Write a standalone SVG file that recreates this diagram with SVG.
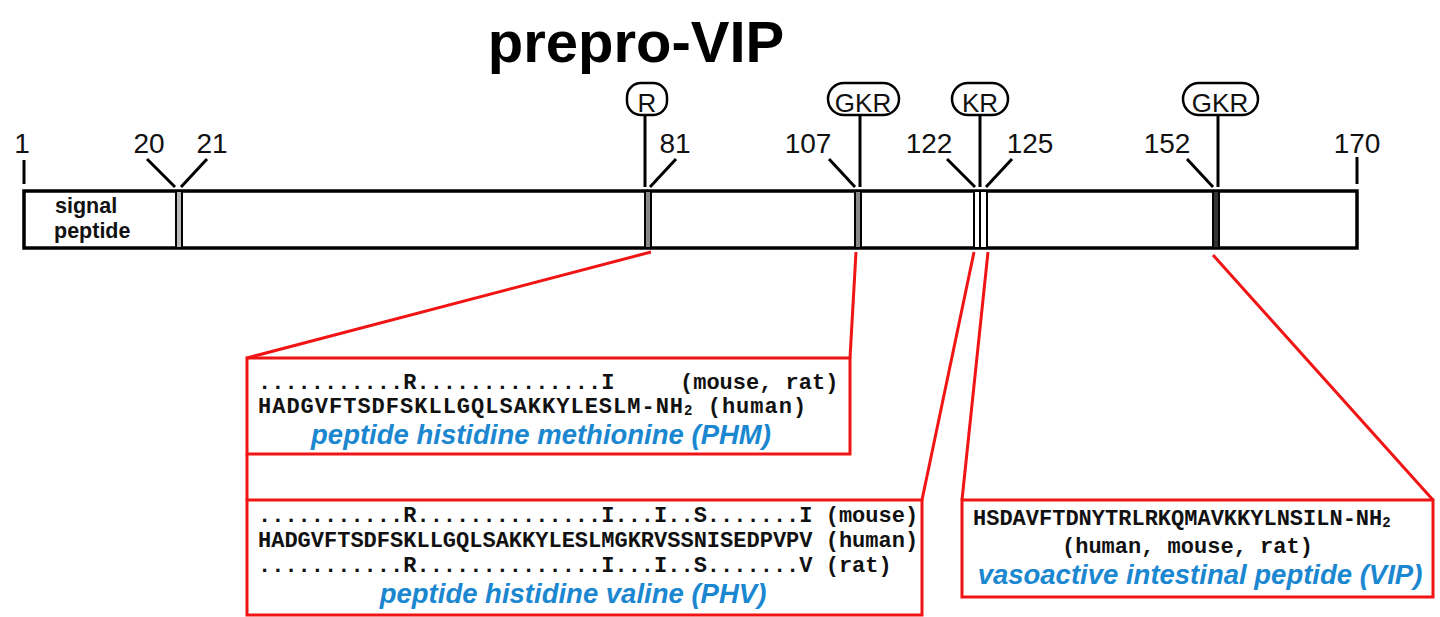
<svg xmlns="http://www.w3.org/2000/svg" width="1440" height="617" viewBox="0 0 1440 617">
<style>
.title{font-family:"Liberation Sans",Arial,sans-serif;font-weight:bold;font-size:58px;fill:#000}
.num{font-family:"Liberation Sans",Arial,sans-serif;font-size:28px;fill:#111;text-anchor:middle}
.site{font-family:"Liberation Sans",Arial,sans-serif;font-size:26px;fill:#111;text-anchor:middle}
.sig{font-family:"Liberation Sans",Arial,sans-serif;font-weight:bold;font-size:21.5px;fill:#111}
.seq{font-family:"Liberation Mono","Courier New",monospace;font-weight:bold;font-size:22px;fill:#111;white-space:pre}
.pep{font-family:"Liberation Sans",Arial,sans-serif;font-weight:bold;font-style:italic;font-size:27.5px;fill:#1a87d0;text-anchor:middle}
.blk{stroke:#000;stroke-width:3;fill:none}
.box{stroke:#000;stroke-width:2.5;fill:#fff}
.div{stroke:#000;stroke-width:2}
.red{stroke:#f01414;stroke-width:3;fill:none}
</style>
<rect width="1440" height="617" fill="#fff"/>
<g id="title"><text class="title" x="636" y="62" text-anchor="middle">prepro-VIP</text></g>
<g id="precursor">
<rect x="24" y="191" width="1333" height="57" fill="#fff" stroke="#000" stroke-width="3.5"/>
<text class="sig" x="55" y="213">signal</text>
<text class="sig" x="54" y="238">peptide</text>
<rect class="div" x="176" y="191" width="6" height="57" fill="#bbb"/>
<rect class="div" x="645" y="191" width="6" height="57" fill="#888"/>
<rect class="div" x="855" y="191" width="6" height="57" fill="#888"/>
<rect class="div" x="974" y="191" width="6" height="57" fill="#fff"/>
<rect class="div" x="980" y="191" width="7" height="57" fill="#fff"/>
<rect class="div" x="1213" y="191" width="6" height="57" fill="#333"/>
</g>
<g id="positions">
<line class="blk" x1="24" y1="160" x2="24" y2="184"/>
<text class="num" x="22" y="153">1</text>
<line class="blk" x1="147" y1="159" x2="175" y2="187"/>
<text class="num" x="149" y="153">20</text>
<line class="blk" x1="207" y1="159" x2="181" y2="187"/>
<text class="num" x="212" y="153">21</text>
<line class="blk" x1="676" y1="159" x2="650" y2="187"/>
<text class="num" x="675" y="153">81</text>
<line class="blk" x1="829" y1="159" x2="855" y2="187"/>
<text class="num" x="808" y="153">107</text>
<line class="blk" x1="947" y1="159" x2="975" y2="187"/>
<text class="num" x="929" y="153">122</text>
<line class="blk" x1="1012" y1="159" x2="986" y2="187"/>
<text class="num" x="1030" y="153">125</text>
<line class="blk" x1="1187" y1="159" x2="1213" y2="187"/>
<text class="num" x="1167" y="153">152</text>
<line class="blk" x1="1357" y1="157" x2="1357" y2="184"/>
<text class="num" x="1357" y="153">170</text>
</g>
<g id="site-R">
<line class="blk" x1="645" y1="115" x2="645" y2="187"/>
<rect class="box" x="627" y="83" width="40" height="32" rx="14"/>
<text class="site" x="647" y="112">R</text>
</g>
<g id="site-GKR-107">
<line class="blk" x1="860" y1="115" x2="860" y2="187"/>
<rect class="box" x="828" y="83" width="71" height="32" rx="16"/>
<text class="site" x="863" y="112">GKR</text>
</g>
<g id="site-KR">
<line class="blk" x1="980" y1="115" x2="980" y2="187"/>
<rect class="box" x="952" y="83" width="56" height="32" rx="16"/>
<text class="site" x="980" y="112">KR</text>
</g>
<g id="site-GKR-152">
<line class="blk" x1="1218" y1="115" x2="1218" y2="187"/>
<rect class="box" x="1183" y="83" width="75" height="32" rx="16"/>
<text class="site" x="1220" y="112">GKR</text>
</g>
<g id="connectors">
<line class="red" x1="651" y1="252" x2="247" y2="358"/>
<line class="red" x1="856" y1="252" x2="850" y2="358"/>
<line class="red" x1="974" y1="252" x2="922" y2="500"/>
<line class="red" x1="988" y1="252" x2="962" y2="500"/>
<line class="red" x1="1213" y1="255" x2="1433" y2="500"/>
<line class="red" x1="247" y1="454" x2="247" y2="500"/>
</g>
<g id="PHM">
<rect class="red" x="247" y="358" width="603" height="96" fill="#fff"/>
<text class="seq" x="258" y="389">...........R..............I<tspan x="680">(mouse, rat)</tspan></text>
<text class="seq" x="258" y="413" letter-spacing="1">HADGVFTSDFSKLLGQLSAKKYLESLM-NH<tspan font-size="14" dy="2">2</tspan><tspan dy="-2"> (human)</tspan></text>
<text class="pep" x="541" y="444">peptide histidine methionine (PHM)</text>
</g>
<g id="PHV">
<rect class="red" x="247" y="500" width="675" height="115" fill="#fff"/>
<text class="seq" x="258" y="522">...........R..............I...I..S.......I (mouse)</text>
<text class="seq" x="258" y="547">HADGVFTSDFSKLLGQLSAKKYLESLMGKRVSSNISEDPVPV (human)</text>
<text class="seq" x="258" y="572">...........R..............I...I..S.......V (rat)</text>
<text class="pep" x="573" y="603">peptide histidine valine (PHV)</text>
</g>
<g id="VIP">
<rect class="red" x="962" y="500" width="471" height="97" fill="#fff"/>
<text class="seq" x="973" y="525">HSDAVFTDNYTRLRKQMAVKKYLNSILN-NH<tspan font-size="14" dy="2">2</tspan></text>
<text class="seq" x="1062" y="553">(human, mouse, rat)</text>
<text class="pep" x="1200" y="584">vasoactive intestinal peptide (VIP)</text>
</g>
</svg>
